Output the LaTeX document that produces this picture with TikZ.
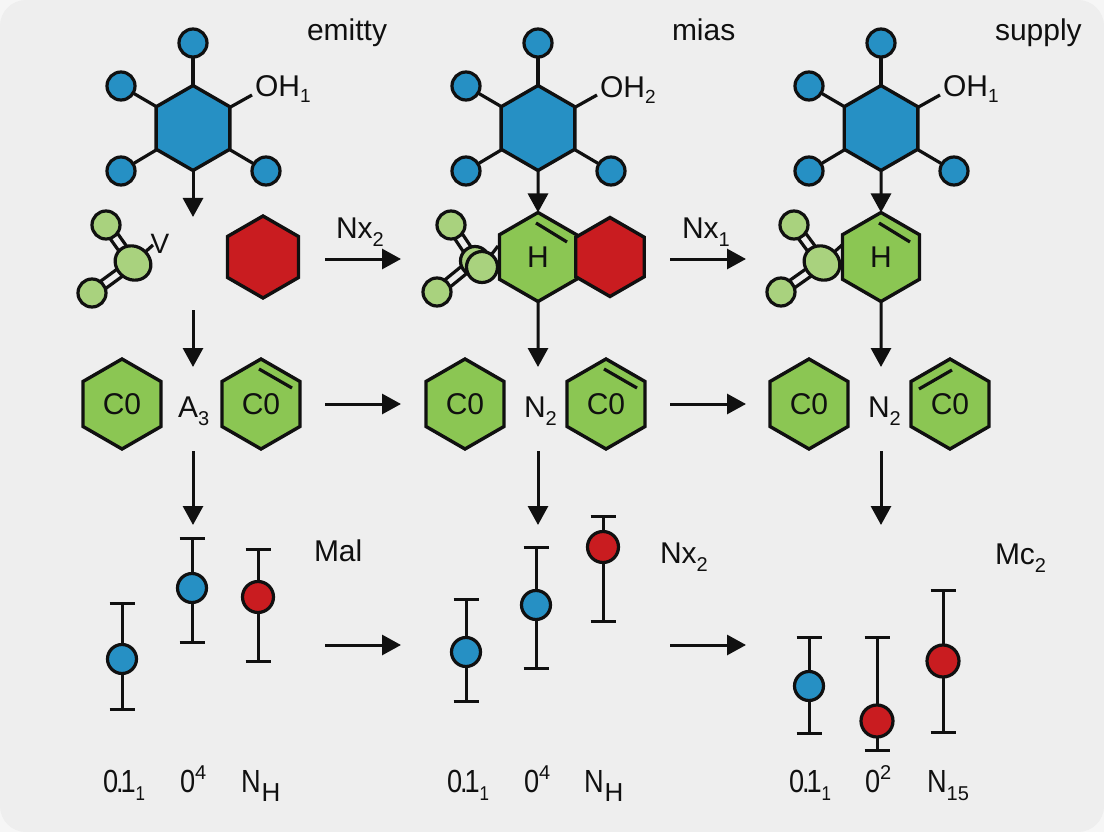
\documentclass[tikz,border=0pt]{standalone}
\usepackage{fontspec}
\setmainfont{Liberation Sans}
\usetikzlibrary{shapes.geometric,arrows.meta}
\pgfdeclarelayer{back}
\pgfdeclarelayer{bonds}
\pgfsetlayers{back,bonds,main}
\newcommand{\sbs}[1]{\raisebox{-8pt}{\fontsize{20}{20}\selectfont #1}}
\newcommand{\sbo}[1]{\raisebox{-6pt}{\fontsize{19}{19}\selectfont #1}}
\newcommand{\sbh}[1]{\kern1pt\raisebox{-9pt}{\fontsize{26}{26}\selectfont #1}}
\newcommand{\sps}[1]{\raisebox{13pt}{\fontsize{20}{20}\selectfont #1}}
\newcommand{\nar}[1]{\scalebox{.85}[1]{\fontsize{32}{32}\selectfont #1}}
\newcommand{\ptone}{\nar{0\kern-2.5pt.\kern-3.5pt1}\raisebox{-8pt}{\scalebox{.85}[1]{\fontsize{20}{20}\selectfont 1}}}
\definecolor{bgc}{HTML}{EEEEEE}
\definecolor{crn}{HTML}{F6F6F6}
\definecolor{blu}{HTML}{2690C4}
\definecolor{redd}{HTML}{C91C20}
\definecolor{grn}{HTML}{8BC653}
\definecolor{lgrn}{HTML}{A9D27E}
\definecolor{ink}{HTML}{101010}
\tikzset{
  x=1pt,y=-1pt,
  every node/.style={inner sep=0pt,outer sep=0pt},
  hexa/.style={shape=regular polygon,regular polygon sides=6,shape border rotate=30,draw=ink,line width=3.4pt,minimum size=#1,miter limit=10},
  txt/.style={font=\fontsize{30}{30}\selectfont,text=ink},
  lab/.style={txt,anchor=base west},
  dot/.style={circle,draw=ink,line width=3.2pt,minimum size=#1},
  oval/.style={ellipse,draw=ink,line width=3.2pt,minimum width=37pt,minimum height=33pt,rotate=-35,fill=lgrn},
  arr/.style={draw=ink,line width=3pt,-{Triangle[length=19pt,width=20pt]}},
  bond/.style={draw=ink,line width=3.2pt},
  errbar/.style={draw=ink,line width=3pt},
  dbl/.style={draw=ink,line width=3.2pt}
}
\newcommand{\ebar}[7]{% name,x,top,bottom,doty,colour,size
  \coordinate (#1t) at (#2,#3);\coordinate (#1b) at (#2,#4);
  \draw[errbar] ([shift={(-12.5,0)}]#1t) -- ([shift={(12.5,0)}]#1t);
  \draw[errbar] ([shift={(-12.5,0)}]#1b) -- ([shift={(12.5,0)}]#1b);
  \draw[errbar] (#1t) -- (#1b);
  \node[dot=#7pt,fill=#6] (#1d) at (#2,#5) {};
}
\newcommand{\mol}[7]{% name,cx,cy, top x,y, bottom x,y
  \node[dot=28pt,fill=lgrn] (#1a) at (#4,#5) {};
  \node[dot=28pt,fill=lgrn] (#1b) at (#6,#7) {};
  \coordinate (#1c) at (#2,#3);
  \begin{pgfonlayer}{bonds}
  \draw[bond] ([shift={(3.7,-2.6)}]#1a.center) -- ([shift={(3.7,-2.6)}]#1c);
  \draw[bond] ([shift={(-3.7,2.6)}]#1a.center) -- ([shift={(-3.7,2.6)}]#1c);
  \draw[bond] ([shift={(2.6,3.6)}]#1b.center) -- ([shift={(2.6,3.6)}]#1c);
  \draw[bond] ([shift={(-2.6,-3.6)}]#1b.center) -- ([shift={(-2.6,-3.6)}]#1c);
  \end{pgfonlayer}
}
\newcommand{\topmol}[2]{% prefix, centre x
  \node[dot=28pt,fill=blu] (#1t) at (#2,43) {};
  \node[dot=28pt,fill=blu] (#1l) at (#2-72,86) {};
  \node[dot=28pt,fill=blu] (#1s) at (#2-72,171) {};
  \node[dot=28pt,fill=blu] (#1r) at (#2+73,171) {};
  \node[hexa=85pt,fill=blu] (#1h) at (#2,128) {};
  \coordinate (#1o) at (#2+59,95);
  \begin{pgfonlayer}{bonds}
  \draw[bond] (#1h.center) -- (#1t.center);
  \draw[bond] (#1h.center) -- (#1l.center);
  \draw[bond] (#1h.center) -- (#1s.center);
  \draw[bond] (#1h.center) -- (#1r.center);
  \draw[bond] (#1h.center) -- (#1o);
  \end{pgfonlayer}
}
\begin{document}
\begin{tikzpicture}
\useasboundingbox (0,0) rectangle (1104,832);
\begin{pgfonlayer}{back}
\fill[crn] (0,0) rectangle (1104,832);
\fill[bgc,rounded corners=26pt] (0,0) rectangle (1104,832);
\end{pgfonlayer}
% top molecules
\topmol{a}{193}
\topmol{b}{538}
\topmol{c}{881}
\node[lab] at (255,97) {OH\sbo{1}};
\node[lab] at (600,98) {OH\sbo{2}};
\node[lab] at (943,97) {OH\sbo{1}};
\node[lab] at (307,41) {emitty};
\node[lab] at (672,41) {mias};
\node[lab] at (995,41) {supply};
% row two: first column
\mol{p}{133}{263}{106}{225}{92}{293}
\node[oval] (po) at (pc) {};
\coordinate (pv) at (153,245);
\begin{pgfonlayer}{bonds}\draw[bond] (po.center) -- (pv);\end{pgfonlayer}
\node[txt,font=\fontsize{28}{28}\selectfont] (pl) at (160,244) {V};
\node[hexa=82pt,fill=redd] (r1) at (263,257) {};
% row two: second column
\mol{q}{475}{261}{451}{225}{437}{292}
\node[hexa=89pt,fill=grn,txt] (g2) at (538,257) {H};
\node[hexa=79pt,fill=redd] (r2) at (610,257) {};
\draw[dbl] (536,223) -- (567,242);
\node[dot=29pt,fill=lgrn] (qo) at (qc) {};
\node[dot=31pt,fill=lgrn] (qp) at (482,267) {};
\coordinate (qv) at (498,246);
\begin{pgfonlayer}{bonds}\draw[bond] (qp.center) -- (qv);\end{pgfonlayer}
% row two: third column
\mol{s}{822}{263}{794}{225}{781}{292}
\node[hexa=89pt,fill=grn,txt] (g3) at (881,257) {H};
\draw[dbl] (879,223) -- (910,242);
\node[oval] (so) at (sc) {};
\coordinate (sv) at (842,245);
\begin{pgfonlayer}{bonds}\draw[bond] (so.center) -- (sv);\end{pgfonlayer}
% row three
\node[hexa=90pt,fill=grn,txt] (h1) at (122,404) {\raisebox{-2pt}{C0}};
\node[hexa=90pt,fill=grn,txt] (h2) at (261,404) {\raisebox{-2pt}{C0}};
\draw[dbl] (259,369) -- (292,388);
\node[lab] at (178,417) {A\sbs{3}};
\node[hexa=90pt,fill=grn,txt] (h3) at (465,404) {\raisebox{-2pt}{C0}};
\node[hexa=90pt,fill=grn,txt] (h4) at (606,404) {\raisebox{-2pt}{C0}};
\draw[dbl] (604,369) -- (637,388);
\node[lab] at (524,417) {N\sbs{2}};
\node[hexa=90pt,fill=grn,txt] (h5) at (809,404) {\raisebox{-2pt}{C0}};
\node[hexa=90pt,fill=grn,txt] (h6) at (950,404) {\raisebox{-2pt}{C0}};
\draw[dbl] (919,389) -- (952,370);
\node[lab] at (868,417) {N\sbs{2}};
% vertical arrows
\coordinate (t1) at (193,217);
\coordinate (u1) at (193,310);\coordinate (v1) at (193,367);
\coordinate (w1) at (193,451);\coordinate (y1) at (193,525);
\draw[arr] (ah) -- (t1);
\draw[arr] (u1) -- (v1);
\draw[arr] (w1) -- (y1);
\coordinate (v2) at (538,367);
\coordinate (w2) at (538,451);\coordinate (y2) at (538,525);
\draw[arr] (bh) -- (g2);
\draw[arr] (g2) -- (v2);
\draw[arr] (w2) -- (y2);
\coordinate (v3) at (881,367);
\coordinate (w3) at (881,451);\coordinate (y3) at (881,525);
\draw[arr] (ch) -- (g3);
\draw[arr] (g3) -- (v3);
\draw[arr] (w3) -- (y3);
% horizontal arrows
\foreach \n/\a/\b/\y in {1/325/401/259,2/670/746/259,3/325/401/404,4/670/746/404,5/325/401/645,6/670/746/645}{
  \coordinate (ha\n) at (\a,\y);\coordinate (hb\n) at (\b,\y);
  \draw[arr] (ha\n) -- (hb\n);
}
\node[lab] at (336,238) {Nx\sbs{2}};
\node[lab] at (682,238) {Nx\sbs{1}};
% error bars
\ebar{e1}{122}{603}{709}{659}{blu}{29}
\ebar{e2}{192}{538}{642}{588}{blu}{29}
\ebar{e3}{258}{549}{661}{597}{redd}{31}
\ebar{e4}{466}{599}{701}{652}{blu}{29}
\ebar{e5}{536}{547}{668}{605}{blu}{29}
\ebar{e6}{603}{516}{621}{547}{redd}{31}
\ebar{e7}{809}{637}{733}{686}{blu}{29}
\ebar{e8}{877}{637}{750}{721}{redd}{32}
\ebar{e9}{943}{590}{732}{661}{redd}{32}
\node[lab] at (314,561) {Mal};
\node[lab] at (660,563) {Nx\sbs{2}};
\node[lab] at (995,564) {Mc\sbs{2}};
% bottom labels
\node[lab] at (103,792) {\ptone};
\node[lab] at (180,792) {\nar{0}\sps{4}};
\node[lab] at (241,792) {\nar{N}\sbh{H}};
\node[lab] at (447,792) {\ptone};
\node[lab] at (524,792) {\nar{0}\sps{4}};
\node[lab] at (584,792) {\nar{N}\sbh{H}};
\node[lab] at (789,792) {\ptone};
\node[lab] at (865,792) {\nar{0}\sps{2}};
\node[lab] at (927,792) {\nar{N}\sbs{15}};
\end{tikzpicture}
\end{document}
